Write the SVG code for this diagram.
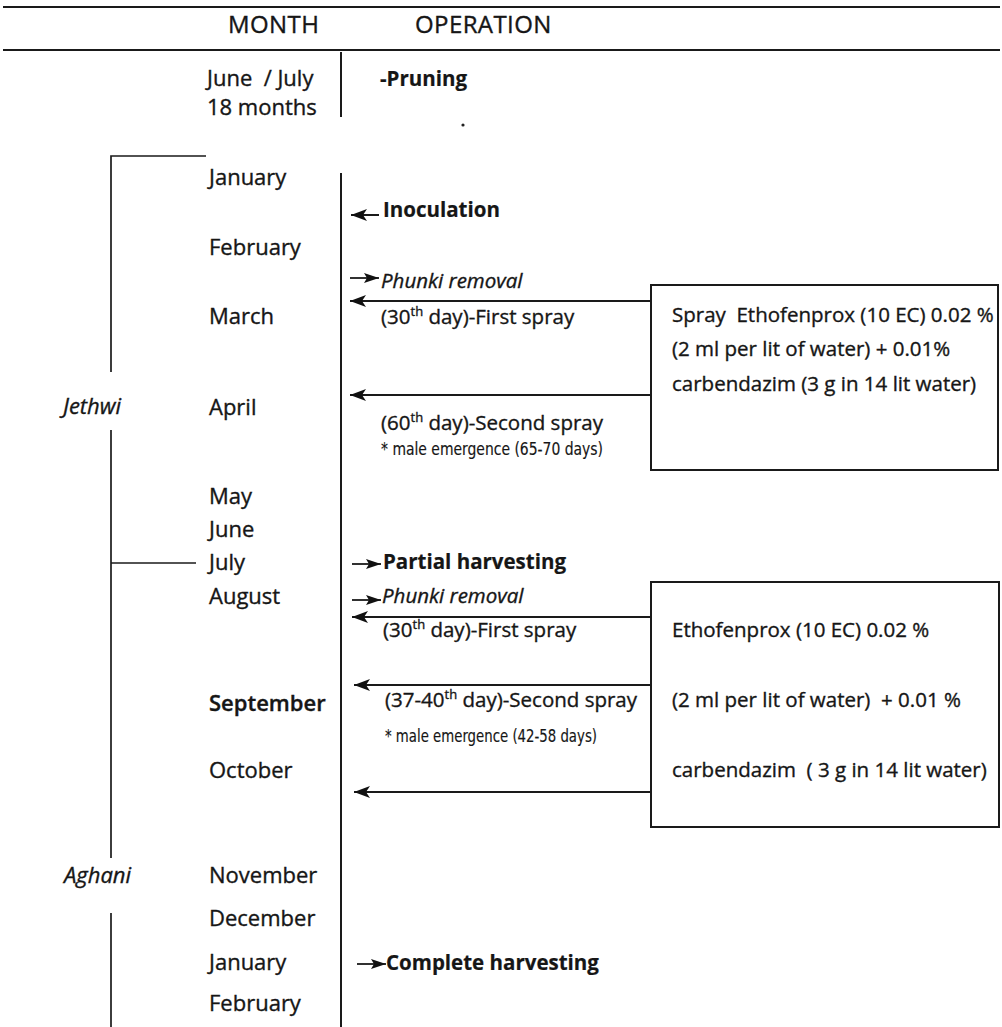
<svg xmlns="http://www.w3.org/2000/svg" width="1002" height="1027" viewBox="0 0 1002 1027">
<defs>
<style>
text{font-family:"Open Sans","Liberation Sans",sans-serif;fill:#161616;stroke:#161616;stroke-width:0.35}
.h{font-size:24px;letter-spacing:0.4px}
.m{font-size:22px}
.op{font-size:20.5px}
.b{font-weight:bold;stroke-width:0.2}
.i{font-style:italic}
.sm{font-size:17px;font-family:"DejaVu Sans Condensed","Liberation Sans Narrow","Liberation Sans",sans-serif;stroke-width:0.15}
.bx{font-size:20.5px}
.ln{stroke:#1a1a1a;stroke-width:2;fill:none}
.thin{stroke:#1a1a1a;stroke-width:1.7;fill:none}
.ar{stroke:#1a1a1a;stroke-width:2;fill:none;marker-end:url(#ah)}
.ars{stroke:#1a1a1a;stroke-width:1.8;fill:none;marker-end:url(#ahs)}
.box{fill:#fff;stroke:#1a1a1a;stroke-width:2}
</style>
<marker id="ah" markerUnits="userSpaceOnUse" markerWidth="17" markerHeight="13" refX="16" refY="6.5" orient="auto">
<path d="M0,0.5 L16,6.5 L0,12.5 L4,6.5 Z" fill="#111"/>
</marker>
<marker id="ahs" markerUnits="userSpaceOnUse" markerWidth="16" markerHeight="12" refX="15" refY="6" orient="auto">
<path d="M0,1 L15,6 L0,11 L3,6 Z" fill="#111"/>
</marker>
</defs>
<rect width="1002" height="1027" fill="#fff"/>

<g id="header">
<line class="ln" x1="3" y1="7" x2="1000" y2="7" stroke-width="2.4"/>
<line class="ln" x1="3" y1="50" x2="1000" y2="50" stroke-width="2.4"/>
<text class="h" x="228" y="33">MONTH</text>
<text class="h" x="415" y="33">OPERATION</text>
</g>

<g id="pruning-row">
<text class="m" x="207" y="86" xml:space="preserve">June  / July</text>
<text class="m" x="207" y="115">18 months</text>
<line class="ln" x1="341" y1="52" x2="341" y2="117"/>
<text class="op b" x="380" y="86">-Pruning</text>
<circle cx="463" cy="125" r="1.6" fill="#222"/>
</g>

<g id="season-brackets">
<polyline class="thin" points="206,156 111,156 111,372"/>
<line class="thin" x1="111" y1="430" x2="111" y2="858"/>
<line class="thin" x1="111" y1="563" x2="196" y2="563"/>
<line class="thin" x1="111" y1="913" x2="111" y2="1027"/>
<text class="m i" x="63" y="414" font-size="24.5">Jethwi</text>
<text class="m i" x="64" y="883" font-size="24">Aghani</text>
</g>

<g id="months">
<text class="m" x="209" y="185">January</text>
<text class="m" x="209" y="255">February</text>
<text class="m" x="209" y="324">March</text>
<text class="m" x="209" y="415">April</text>
<text class="m" x="209" y="504">May</text>
<text class="m" x="209" y="537">June</text>
<text class="m" x="209" y="570">July</text>
<text class="m" x="209" y="604">August</text>
<text class="m" x="209" y="711" font-weight="600" stroke-width="0.2">September</text>
<text class="m" x="209" y="778">October</text>
<text class="m" x="209" y="883">November</text>
<text class="m" x="209" y="926">December</text>
<text class="m" x="209" y="970">January</text>
<text class="m" x="209" y="1011">February</text>
</g>

<g id="timeline">
<line class="ln" x1="341" y1="173" x2="341" y2="1027"/>
</g>

<g id="operations">
<text class="op b" x="383" y="217">Inoculation</text>
<text class="op i" x="381" y="288">Phunki removal</text>
<text class="op" x="381" y="324">(30<tspan font-size="13" dy="-8">th</tspan><tspan dy="8"> day)-First spray</tspan></text>
<text class="op" x="381" y="430">(60<tspan font-size="13" dy="-8">th</tspan><tspan dy="8"> day)-Second spray</tspan></text>
<text class="sm" x="381" y="455" textLength="222" lengthAdjust="spacingAndGlyphs">* male emergence (65-70 days)</text>
<text class="op b" x="383" y="569">Partial harvesting</text>
<text class="op i" x="382" y="603">Phunki removal</text>
<text class="op" x="383" y="637">(30<tspan font-size="13" dy="-8">th</tspan><tspan dy="8"> day)-First spray</tspan></text>
<text class="op" x="385" y="707">(37-40<tspan font-size="13" dy="-8">th</tspan><tspan dy="8"> day)-Second spray</tspan></text>
<text class="sm" x="385" y="742" textLength="212" lengthAdjust="spacingAndGlyphs">* male emergence (42-58 days)</text>
<text class="op b" x="386" y="970">Complete harvesting</text>
</g>

<g id="box-jethwi">
<rect class="box" x="651" y="285" width="347" height="185"/>
<text class="bx" x="672" y="322" xml:space="preserve">Spray  Ethofenprox (10 EC) 0.02 %</text>
<text class="bx" x="672" y="356">(2 ml per lit of water) + 0.01%</text>
<text class="bx" x="672" y="391">carbendazim (3 g in 14 lit water)</text>
</g>

<g id="box-aghani">
<rect class="box" x="651" y="582" width="348" height="245"/>
<text class="bx" x="672" y="637">Ethofenprox (10 EC) 0.02 %</text>
<text class="bx" x="672" y="707" xml:space="preserve">(2 ml per lit of water)  + 0.01 %</text>
<text class="bx" x="672" y="777" xml:space="preserve">carbendazim  ( 3 g in 14 lit water)</text>
</g>

<g id="connectors">
<line class="ar" x1="379" y1="215" x2="351" y2="215"/>
<line class="ars" x1="350" y1="278" x2="379" y2="278"/>
<line class="ar" x1="651" y1="301" x2="350" y2="301"/>
<line class="ar" x1="651" y1="395" x2="350" y2="395"/>
<line class="ars" x1="352" y1="564" x2="381" y2="564"/>
<line class="ars" x1="352" y1="600" x2="381" y2="600"/>
<line class="ar" x1="651" y1="617" x2="352" y2="617"/>
<line class="ar" x1="651" y1="685" x2="354" y2="685"/>
<line class="ar" x1="651" y1="792" x2="354" y2="792"/>
<line class="ars" x1="357" y1="964" x2="386" y2="964"/>
</g>
</svg>
